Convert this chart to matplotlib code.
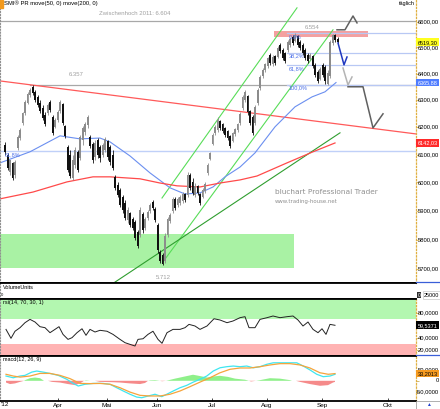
import numpy as np
import matplotlib
matplotlib.use('Agg')
import matplotlib.pyplot as plt
import matplotlib.transforms as mtrans
from matplotlib.patches import Rectangle

plt.rcParams['font.family'] = ['Liberation Sans', 'DejaVu Sans']

# daily SMI candles (trading day index, first bar at day 2)
opens = [6135, 6099, 6038, 6070, 6027, 6124, 6160, 6215, 6252, 6290,
         6320, 6350, 6331, 6312, 6290, 6271, 6245, 6252, 6293, 6238,
         6201, 6227, 6260, 6286, 6204, 6128, 6099, 6016, 6063, 6110,
         6088, 6153, 6182, 6208, 6164, 6139, 6091, 6153, 6128, 6099,
         6117, 6149, 6128, 6099, 6020, 5991, 5974, 5949, 5928, 5868,
         5893, 5872, 5861, 5827, 5816, 5889, 5840, 5875, 5900, 5931,
         5907, 5851, 5758, 5748, 5727, 5816, 5865, 5900, 5942, 5921,
         5928, 5935, 5959, 5956, 6027, 6002, 5956, 5988, 5959, 5949,
         5970, 6034, 6084, 6139, 6179, 6190, 6223, 6212, 6197, 6186,
         6168, 6149, 6175, 6190, 6215, 6271, 6301, 6316, 6260, 6238,
         6215, 6290, 6346, 6391, 6414, 6429, 6471, 6437, 6467, 6463,
         6510, 6490, 6479, 6490, 6510, 6540, 6525, 6544, 6521, 6510,
         6490, 6471, 6456, 6467, 6433, 6406, 6380, 6433, 6425, 6361,
         6391, 6517, 6548, 6533]
highs = [6146, 6106, 6081, 6073, 6081, 6171, 6197, 6256, 6301, 6331,
         6346, 6357, 6338, 6320, 6301, 6282, 6256, 6290, 6301, 6245,
         6234, 6264, 6301, 6290, 6208, 6135, 6117, 6099, 6128, 6117,
         6171, 6204, 6219, 6245, 6171, 6146, 6153, 6160, 6135, 6142,
         6164, 6153, 6135, 6117, 6027, 6002, 5981, 5956, 5938, 5914,
         5896, 5879, 5868, 5833, 5914, 5896, 5879, 5903, 5928, 5938,
         5914, 5858, 5765, 5755, 5823, 5879, 5893, 5949, 5949, 5949,
         5956, 5966, 5963, 6038, 6034, 6016, 5998, 5991, 5963, 5981,
         6002, 6070, 6110, 6179, 6208, 6238, 6227, 6215, 6201, 6190,
         6171, 6182, 6197, 6215, 6256, 6320, 6338, 6320, 6264, 6245,
         6282, 6346, 6395, 6421, 6440, 6463, 6479, 6471, 6471, 6506,
         6517, 6498, 6482, 6529, 6540, 6548, 6554, 6548, 6529, 6517,
         6498, 6479, 6479, 6471, 6440, 6414, 6425, 6440, 6433, 6414,
         6529, 6550, 6552, 6540]
lows = [6099, 6045, 6027, 6009, 6016, 6117, 6153, 6208, 6245, 6286,
        6312, 6320, 6293, 6275, 6252, 6227, 6204, 6245, 6256, 6171,
        6197, 6219, 6252, 6208, 6160, 6038, 6016, 6009, 6052, 6038,
        6081, 6135, 6171, 6197, 6124, 6070, 6081, 6088, 6073, 6091,
        6110, 6081, 6063, 6045, 5974, 5949, 5914, 5893, 5868, 5858,
        5844, 5833, 5799, 5772, 5809, 5823, 5833, 5868, 5893, 5903,
        5861, 5755, 5721, 5712, 5721, 5809, 5858, 5893, 5903, 5914,
        5921, 5928, 5931, 5949, 5974, 5956, 5949, 5956, 5921, 5945,
        5963, 6027, 6081, 6135, 6171, 6182, 6190, 6179, 6164, 6153,
        6124, 6146, 6168, 6182, 6208, 6264, 6293, 6245, 6208, 6171,
        6208, 6282, 6338, 6384, 6406, 6421, 6433, 6429, 6433, 6459,
        6479, 6452, 6440, 6482, 6502, 6510, 6521, 6502, 6490, 6471,
        6452, 6440, 6452, 6421, 6387, 6365, 6376, 6387, 6361, 6357,
        6384, 6510, 6521, 6510]
closes = [6110, 6052, 6081, 6016, 6073, 6164, 6190, 6252, 6293, 6323,
          6338, 6327, 6301, 6282, 6260, 6234, 6212, 6282, 6264, 6179,
          6227, 6256, 6293, 6215, 6168, 6045, 6023, 6081, 6117, 6045,
          6164, 6197, 6212, 6238, 6131, 6081, 6142, 6099, 6088, 6135,
          6157, 6091, 6073, 6052, 5981, 5956, 5921, 5903, 5875, 5903,
          5851, 5840, 5806, 5778, 5903, 5833, 5872, 5896, 5921, 5910,
          5868, 5765, 5727, 5717, 5813, 5872, 5886, 5942, 5910, 5942,
          5949, 5959, 5938, 6027, 5981, 5963, 5988, 5963, 5928, 5974,
          5995, 6063, 6106, 6171, 6201, 6227, 6197, 6186, 6171, 6160,
          6131, 6179, 6193, 6212, 6249, 6312, 6331, 6256, 6215, 6179,
          6275, 6338, 6387, 6414, 6437, 6459, 6440, 6463, 6440, 6498,
          6486, 6459, 6448, 6521, 6533, 6517, 6548, 6510, 6498, 6479,
          6459, 6448, 6471, 6429, 6395, 6372, 6418, 6395, 6372, 6402,
          6521, 6548, 6529, 6519.30]

# moving averages (day, value)
ma50_day = [0, 12, 24, 32, 40, 44, 52, 60, 68, 74, 80, 85.2, 90, 96, 102, 110, 118, 124.8, 130, 134.4]
ma50 = [6070, 6110, 6168, 6157, 6160, 6146, 6095, 6034, 5981, 5959, 5963, 5984, 6020, 6055, 6106,
        6201, 6275, 6312, 6331, 6365.88]
ma200_day = [0, 13.2, 26.8, 37.2, 44, 56, 64, 70.8, 80, 88, 96, 102.8, 114.8, 125.2, 134]
ma200 = [5942, 5966, 6002, 6020, 6020, 6013, 5998, 5988, 5984, 5998, 6009, 6023, 6070, 6110, 6142.03]

# rsi(14)
rsi_day = [2.4, 4.4, 6, 8, 10, 12, 14, 16, 18, 20, 22, 23.6, 25.2, 27.2, 28.8, 30.8, 32.8, 34.4, 36, 38,
           40, 42.8, 45.2, 48, 50, 52, 54, 55.2, 57.2, 59.2, 61.2, 63.2, 64.8, 66.8, 69.2, 72, 74, 75.6,
           78, 80, 82.8, 85.6, 88, 90.8, 93.2, 96, 98, 99.6, 102, 104, 106.8, 109.2, 112, 114.8, 117.2,
           119.2, 121.2, 123.2, 125.2, 127.2, 128.8, 130.4, 132, 134]
rsi = [53, 38.7, 50, 55.7, 63.7, 69, 64.8, 57.3, 55.7, 47.7, 53, 57.3, 45, 37, 39.7, 47.7, 54, 43.5, 53, 48.8,
       51.5, 50, 45, 37, 31.7, 29, 26.4, 37, 38, 45, 50, 37, 30.7, 47.7, 53, 53, 55.7, 61,
       58.4, 53, 58.4, 70, 68, 63.7, 66.4, 71.7, 73.3, 55.7, 55.7, 69, 71.7, 74.4, 71.7, 73.3, 74.4,
       68, 58.4, 64.8, 53, 47.7, 54, 45, 61, 59.5371]

# macd(12, 26, 9)
macd_day = [2.4, 5.3, 8, 10, 12.7, 14.7, 17.3, 20, 23.3, 26.7, 29.3, 31.3, 34, 37.3, 41.2, 44, 46.7, 49.3,
            52, 54.7, 56.7, 59.3, 62, 64.7, 66.7, 69.3, 72, 74.7, 77.3, 80, 82.7, 85.3, 88, 90.7, 93.3, 96,
            98.7, 101.3, 104, 106.7, 109.3, 112, 118.7, 121.3, 124, 126.7, 129.3, 132, 134]
macd = [22, 14, 22, 25, 40, 45, 40, 34, 25, 7, -12, -24, -16, -12, -12, -16, -32, -47, -62, -75, -78, -70,
        -62, -73, -62, -47, -32, -21, -6, 7, 22, 45, 60, 65, 68, 65, 68, 60, 65, 76, 83, 83, 83, 68, 50,
        30, 19, 22, 30]
signal_day = [2.4, 5.3, 8, 12, 16, 20, 24, 28, 32, 36, 40, 44, 48, 52, 56, 60, 64, 68, 72, 76, 80, 84, 88,
              92, 96, 100, 104, 108, 112, 116, 120, 124, 128, 131.3, 134]
signal = [30, 22, 17, 22, 34, 34, 25, 10, -12, -13, -12, -16, -32, -52, -67, -70, -70, -62, -47, -27, -6,
          14, 37, 53, 59, 59, 65, 73, 79, 79, 73, 59, 37, 30, 33.2013]
hist_day = [2.4, 4, 6, 8, 9.6, 10, 12, 14, 16, 17.6, 19.2, 20.8, 24, 27.2, 30, 32, 33.6, 34.4, 36, 38,
            40, 44, 48, 52, 56, 58, 59.2, 60, 62, 64, 64.8, 66.4, 67.2, 70, 74, 77.2, 80, 82.8, 85.2,
            88, 91.2, 94, 98, 99.6, 100.4, 102.4, 104, 108, 112, 116, 116.8, 118.4, 120, 124, 128,
            131.2, 133.2, 134]
hist = [-8, -15, -12, -5, 0, 3, 12, 15, 12, 0, 0, -5, -8, -15, -20, -12, 0, 2, 0, 0,
        -5, -6, -8, -12, -15, -10, 0, 2, 3, 0, -2, 0, 2, 10, 20, 28, 22, 15, 20,
        23, 18, 10, 5, 0, -3, 0, 3, 12, 10, 3, 0, 0, -5, -15, -23,
        -20, -8, -5]

month_days = [23.2, 42.8, 62.8, 84.8, 106.8, 128.8, 155.2]
month_names = ['Apr', 'Mai', 'Jun', 'Jul', 'Aug', 'Sep', 'Okt']
price_ticks = [5700, 5800, 5900, 6000, 6100, 6200, 6300, 6400, 6500, 6600]

W, H = 440.0, 409.0


def box(top, bottom):
    return [0, 1 - bottom / H, 416 / W, (bottom - top) / H]


def comma(v, nd):
    return f'{v:.{nd}f}'.replace('.', ',')


fig = plt.figure(figsize=(4.4, 4.09), dpi=100)
ax = fig.add_axes(box(0, 283))
axv = fig.add_axes(box(283, 298.5))
axr = fig.add_axes(box(298.5, 355.5))
axm = fig.add_axes(box(355.5, 400.5))

for a in [ax, axv, axr, axm]:
    a.set_xlim(0, 166.4)
    a.set_xticks([])
    a.set_facecolor('white')
    a.spines['top'].set_visible(False)
    a.spines['bottom'].set_color('black')
    a.spines['bottom'].set_linewidth(1.3)
    a.spines['left'].set_linestyle(':')
    a.spines['left'].set_color('#909090')
    a.spines['left'].set_linewidth(0.8)
    a.spines['right'].set_linestyle(':')
    a.spines['right'].set_color('#e0b040')
    a.spines['right'].set_linewidth(0.9)
    a.yaxis.tick_right()
    a.tick_params(axis='y', which='both', length=2, width=0.5, color='#c0a040',
                  labelright=False, labelleft=False)
for a in [axv, axr, axm]:
    a.spines['top'].set_visible(True)
    a.spines['top'].set_linewidth(1.3)
axv.spines['right'].set_visible(False)

lab = dict(fontsize=4.2, color='black')
xr = 439.0 / 416.0

# ---- main price panel
ax.set_yscale('log')
ax.set_ylim(5653, 6685)
ax.set_yticks(price_ticks)
ax.yaxis.set_minor_locator(matplotlib.ticker.NullLocator())
ax.set_yticklabels([])
tr = mtrans.blended_transform_factory(ax.transAxes, ax.transData)
for p in price_ticks:
    ax.text(xr, p, comma(p, 2), transform=tr, ha='right', va='center', clip_on=False, **lab)

# support zone and resistance box
ax.fill_between([0, 117.6], 5704, 5818, color='#a9f2a4', lw=0, zorder=0)
ax.fill_between([109.6, 147.2], 6540, 6562, color='#f4a0a0', lw=0, zorder=1)

# horizontal lines
ax.plot([0, 166.4], [6604, 6604], color='#a8a8a8', lw=0.9, zorder=1)
ax.plot([12, 166.4], [6357, 6357], color='#a8a8a8', lw=0.9, zorder=1)
ax.plot([0, 166.4], [6113, 6113], color='#c0d0f8', lw=1.0, zorder=1)
fib_levels = [6554, 6479, 6432, 6357]
fib_names = ['0,0%', '38,2%', '61,8%', '100,0%']
for lv, nm in zip(fib_levels, fib_names):
    ax.plot([114.8, 166.4], [lv, lv], color='#b8c8f4', lw=0.9, zorder=1)
    ax.text(115.6, lv * 0.9995, nm, ha='left', va='top', fontsize=4.0, color='#4a6ee8', zorder=5)
ax.text(2, 6110, '61,8%', ha='left', va='top', fontsize=4.0, color='#4a6ee8', zorder=5)

# trend lines
ax.plot([0, 166.4], [6372, 6175], color='#ff5a5a', lw=0.9, zorder=2)
ax.plot([64.8, 118.8], [5945, 6654], color='#58dd58', lw=0.8, zorder=2)
ax.plot([65.2, 133.2], [5724, 6568], color='#58dd58', lw=0.8, zorder=2)
ax.plot([46, 136], [5656, 6179], color='#2f9e2f', lw=0.8, zorder=2)

# moving averages
ax.plot(ma50_day, ma50, color='#6b8ff0', lw=0.8, zorder=2)
ax.plot(ma200_day, ma200, color='#ff4a4a', lw=0.9, zorder=2)

# candles
o = np.array(opens, dtype=float)
h = np.array(highs, dtype=float)
l = np.array(lows, dtype=float)
c = np.array(closes, dtype=float)
days = np.arange(len(c)) + 2
up = c >= o
cols = np.where(up, '#8c8c8c', '#111111')
ax.vlines(days, l, h, colors=cols, lw=0.6, zorder=3)
ax.bar(days, np.maximum(np.abs(c - o), 1.5), bottom=np.minimum(o, c), width=0.8,
       color=cols, lw=0, zorder=3)

# projections
ax.plot([134.8, 138, 141.2, 142.8], [6568, 6568, 6622, 6595], color='#606060', lw=1.1, zorder=4)
ax.plot([135.2, 137.6, 138.8], [6517, 6433, 6463], color='#2038c0', lw=1.1, zorder=4)
ax.plot([137.2, 139.2, 140.8], [6421, 6357, 6387], color='#b4b4b4', lw=1.1, zorder=4)
ax.plot([139.2, 145.2, 149.2, 153.2], [6350, 6350, 6197, 6249], color='#606060', lw=1.1, zorder=4)

# annotations
grey = '#a0a0a0'
ax.text(53.8, 6630, 'Zwischenhoch 2011: 6.604', ha='center', va='center', fontsize=4.3, color=grey)
ax.text(30.6, 6395, '6.357', ha='center', va='center', fontsize=4.3, color=grey)
ax.text(125, 6577, '6.554', ha='center', va='center', fontsize=4.3, color=grey)
ax.text(65.2, 5673, '5.712', ha='center', va='center', fontsize=4.3, color=grey)
ax.text(110, 5967, 'bluchart Professional Trader', ha='left', va='center', fontsize=5.3,
        color='#909090', family='DejaVu Sans')
ax.text(110, 5934, 'www.trading-house.net', ha='left', va='center', fontsize=3.9,
        color='#909090', family='DejaVu Sans')

# last value labels
xl = 417.5 / 416.0
ax.text(xl, c[-1], comma(c[-1], 2), transform=tr, ha='left', va='center', fontsize=4.0,
        color='black', clip_on=False, bbox=dict(boxstyle='square,pad=0.25', fc='#ffff20', ec='none'))
ax.text(xl, ma50[-1], comma(ma50[-1], 2), transform=tr, ha='left', va='center', fontsize=4.0,
        color='white', clip_on=False, bbox=dict(boxstyle='square,pad=0.25', fc='#4f7cff', ec='none'))
ax.text(xl, ma200[-1], comma(ma200[-1], 2), transform=tr, ha='left', va='center', fontsize=4.0,
        color='white', clip_on=False, bbox=dict(boxstyle='square,pad=0.25', fc='#ff2a2a', ec='none'))

fig.text(4 / W, 1 - 3 / H, 'SMI\u00ae PR move(50, 0) move(200, 0)', ha='left', va='center',
         fontsize=4.2, color='black')
fig.patches.append(Rectangle((0, 1 - 8 / H), 2.5 / W, 8 / H, color='#f39a1e',
                             transform=fig.transFigure))
fig.text(415 / W, 1 - 3.5 / H, 't\u00e4glich', ha='right', va='center', fontsize=4.0, color='black')

# ---- volume panel
axv.set_ylim(0, 1)
axv.set_yticks([])
axv.text(3 / 416, 0.7, 'VolumeUnits', transform=axv.transAxes, ha='left', va='center', fontsize=4.0)
axv.text(0.5 / 416, 0.2, '0', transform=axv.transAxes, ha='left', va='center', fontsize=3.0)
axv.text(417.5 / 416, 0.22, '0', transform=axv.transAxes, ha='left', va='center', fontsize=3.6,
         color='white', clip_on=False, bbox=dict(boxstyle='square,pad=0.15', fc='#303030', ec='none'))
axv.text(xr, 0.22, '25000', transform=axv.transAxes, ha='right', va='center', fontsize=4.0,
         clip_on=False, bbox=dict(boxstyle='square,pad=0.2', fc='white', ec='#c8c8c8', lw=0.5))

# ---- rsi panel
axr.set_ylim(11.2, 102.4)
axr.axhspan(70, 102.4, color='#b3f7b0', lw=0, zorder=0)
axr.axhspan(11.2, 30, color='#ffb3b3', lw=0, zorder=0)
axr.plot(rsi_day, rsi, color='#222222', lw=0.7, zorder=2)
rsi_ticks = [20, 40, 80]
axr.set_yticks(rsi_ticks)
trr = mtrans.blended_transform_factory(axr.transAxes, axr.transData)
for v in rsi_ticks:
    axr.text(xr, v, comma(v, 4), transform=trr, ha='right', va='center', clip_on=False, **lab)
axr.text(xl, rsi[-1], comma(rsi[-1], 4), transform=trr, ha='left', va='center', fontsize=4.0,
         color='white', clip_on=False, bbox=dict(boxstyle='square,pad=0.25', fc='black', ec='none'))
axr.text(3 / 416, 0.93, 'rsi(14, 70, 30, 1)', transform=axr.transAxes, ha='left', va='center',
         fontsize=4.0, zorder=5)

# ---- macd panel
axm.set_ylim(-90.8, 116.6)
hd = np.array(hist_day)
hv = np.array(hist, dtype=float)
axm.fill_between(hd, 0, hv, where=hv >= 0, interpolate=True, color='#8ff08a', lw=0, zorder=1)
axm.fill_between(hd, 0, hv, where=hv <= 0, interpolate=True, color='#f58a8a', lw=0, zorder=1)
axm.plot(macd_day, macd, color='#3fe6f0', lw=0.9, zorder=2)
axm.plot(signal_day, signal, color='#f5a43c', lw=0.9, zorder=3)
macd_ticks = [-50, 0, 50]
axm.set_yticks(macd_ticks)
trm = mtrans.blended_transform_factory(axm.transAxes, axm.transData)
for v in macd_ticks:
    axm.text(xr, v, comma(v, 4) if v != 0 else '0', transform=trm, ha='right', va='center',
             clip_on=False, **lab)
axm.text(xl, signal[-1], comma(signal[-1], 4), transform=trm, ha='left', va='center', fontsize=4.0,
         color='black', clip_on=False, bbox=dict(boxstyle='square,pad=0.25', fc='#f59a20', ec='none'))
axm.text(3 / 416, 0.9, 'macd(12, 26, 9)', transform=axm.transAxes, ha='left', va='center',
         fontsize=4.0, zorder=5)

axm.set_xticks(month_days)
axm.set_xticklabels(month_names)
axm.tick_params(axis='x', direction='in', length=2, width=0.5, labelsize=4.6, pad=1.5)
fig.text(0.5 / W, 1 - 405 / H, "'12", ha='left', va='center', fontsize=4.6)

# blue separators on the price scale side
fig.add_artist(plt.Line2D([416 / W, 1], [1 - 282 / H, 1 - 282 / H], color='#3a5fd8', lw=0.9))
fig.add_artist(plt.Line2D([416 / W, 1], [1 - 355 / H, 1 - 355 / H], color='#3a5fd8', lw=0.9))
fig.patches.append(Rectangle((416 / W, 0), 24 / W, 8.5 / H, fc='white', ec='#909090', lw=0.5,
                             transform=fig.transFigure))
fig.text(428 / W, 4 / H, '\u25b2', ha='center', va='center', fontsize=3.5, color='#2040d0')

fig.savefig('out.png', dpi=100)
